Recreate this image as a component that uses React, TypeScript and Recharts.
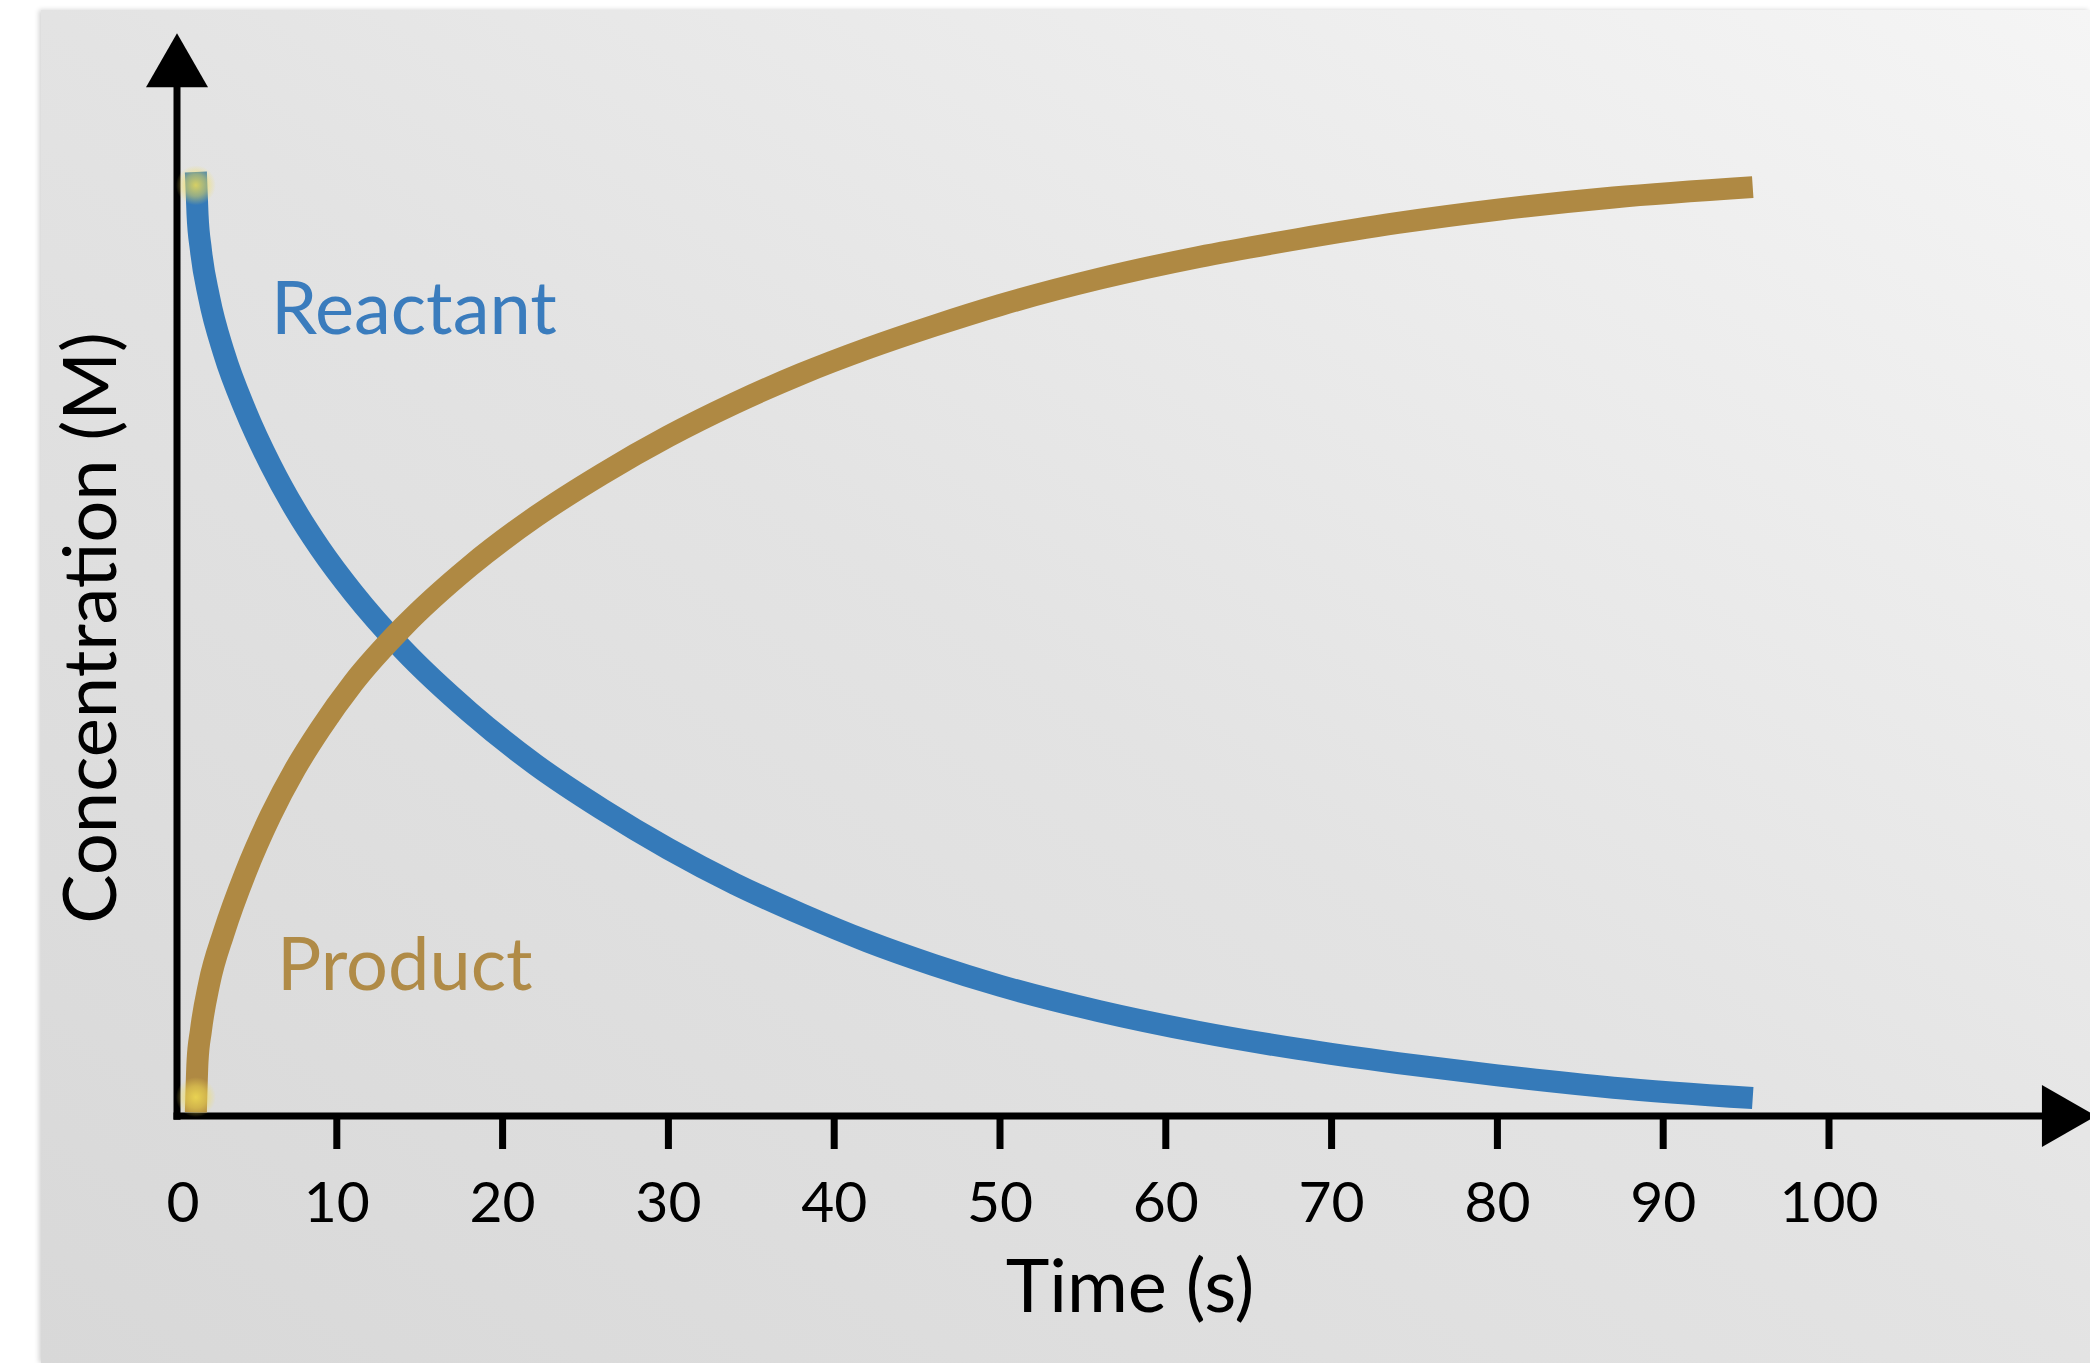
import { LineChart, Line, XAxis, YAxis, ReferenceLine, ReferenceDot, Label } from 'recharts';

// time (s) against relative concentration
const timePoints = [1.5, 1.6, 1.8, 2.3, 3.2, 4.5, 6, 7.5, 9, 11, 14, 18, 22, 26, 30, 34, 38, 42, 46, 50, 56, 62, 68, 74, 80, 87, 95.4];
const reactantConc = [1.0, 0.955, 0.918, 0.867, 0.808, 0.747, 0.69, 0.642, 0.601, 0.554, 0.494, 0.428, 0.372, 0.325, 0.283, 0.246, 0.214, 0.185, 0.16, 0.138, 0.111, 0.089, 0.071, 0.056, 0.043, 0.03, 0.019];
const productConc = [0.004, 0.058, 0.09, 0.14, 0.195, 0.258, 0.318, 0.368, 0.41, 0.459, 0.518, 0.582, 0.635, 0.68, 0.72, 0.755, 0.786, 0.813, 0.837, 0.859, 0.887, 0.91, 0.929, 0.946, 0.96, 0.973, 0.984];

const timeTicks = [0, 10, 20, 30, 40, 50, 60, 70, 80, 90, 100];

const chartData = timePoints.map((t, i) => ({ t, reactant: reactantConc[i], product: productConc[i] }));

const FONT = 'Lato, "Open Sans", sans-serif';
const BLUE = '#357ab9';
const GOLD = '#af8943';

function TimeTick({ x, y, payload }: any) {
  const v = payload.value;
  return (
    <g>
      {v !== 0 && <line x1={x} y1={y} x2={x} y2={y + 33} stroke="#000" strokeWidth={7} />}
      <text x={v === 0 ? x + 12 : x} y={y + 106} textAnchor="middle" fontFamily={FONT} fontSize={57} fill="#000">
        {v}
      </text>
    </g>
  );
}

function ArrowAxis(props: any) {
  const { x1, y1, x2, y2 } = props;
  const dx = x2 - x1;
  const dy = y2 - y1;
  const len = Math.hypot(dx, dy) || 1;
  const ux = dx / len;
  const uy = dy / len;
  const head = 54;
  const half = 31;
  const bx = x2 - ux * head;
  const by = y2 - uy * head;
  const px = -uy;
  const py = ux;
  return (
    <g>
      <line x1={x1} y1={y1} x2={bx + ux * 4} y2={by + uy * 4} stroke="#000" strokeWidth={7} />
      <polygon
        points={`${x2},${y2} ${bx + px * half},${by + py * half} ${bx - px * half},${by - py * half}`}
        fill="#000"
      />
    </g>
  );
}

function Glow(id: string) {
  return ({ cx, cy }: any) => (
    <g>
      <defs>
        <radialGradient id={id}>
          <stop offset="0%" stopColor="#f3df55" stopOpacity={0.85} />
          <stop offset="55%" stopColor="#f3df55" stopOpacity={0.5} />
          <stop offset="100%" stopColor="#f3df55" stopOpacity={0} />
        </radialGradient>
      </defs>
      <circle cx={cx} cy={cy} r={20} fill={`url(#${id})`} />
    </g>
  );
}

function SeriesName(text: string, color: string) {
  return ({ cx, cy }: any) => (
    <text x={cx} y={cy} fontFamily={FONT} fontSize={74} fill={color}>
      {text}
    </text>
  );
}

export default function App() {
  return (
    <div style={{ position: 'absolute', left: 0, top: 0, width: 2090, height: 1363, background: '#fff', overflow: 'hidden' }}>
      <div
        style={{
          position: 'absolute',
          left: 41,
          top: 10,
          width: 2049,
          height: 1353,
          background: 'linear-gradient(to top right, #d8d8d8 0%, #e3e3e3 50%, #f5f5f5 100%)',
          boxShadow: '-2px 0 5px rgba(0,0,0,0.18)',
        }}
      />
      <div style={{ position: 'absolute', left: 0, top: 0 }}>
        <LineChart width={2090} height={1363} data={chartData} margin={{ top: 172, right: 261, bottom: 0, left: 0 }}>
          <XAxis
            dataKey="t"
            type="number"
            domain={[0, 100]}
            ticks={timeTicks}
            axisLine={false}
            tickLine={false}
            tickSize={0}
            tickMargin={0}
            height={247}
            interval={0}
            tick={<TimeTick />}
          >
            <Label
              content={({ viewBox }: any) => (
                <text
                  x={viewBox.x + viewBox.width / 2 + 130}
                  y={viewBox.y + 196}
                  textAnchor="middle"
                  fontFamily={FONT}
                  fontSize={74}
                  fill="#000"
                >
                  Time (s)
                </text>
              )}
            />
          </XAxis>
          <YAxis type="number" domain={[0, 1]} width={171} axisLine={false} tickLine={false} tick={false}>
            <Label
              content={({ viewBox }: any) => {
                const x = viewBox.x + 116;
                const y = viewBox.y + viewBox.height / 2 - 16;
                return (
                  <text
                    x={x}
                    y={y}
                    transform={`rotate(-90, ${x}, ${y})`}
                    textAnchor="middle"
                    fontFamily={FONT}
                    fontSize={74}
                    fill="#000"
                  >
                    Concentration (M)
                  </text>
                );
              }}
            />
          </YAxis>
          <ReferenceLine
            segment={[{ x: 0.362, y: -0.004 }, { x: 0.362, y: 1.147 }]}
            ifOverflow="visible"
            shape={<ArrowAxis />}
          />
          <ReferenceLine
            segment={[{ x: 0.15, y: 0 }, { x: 116.1, y: 0 }]}
            ifOverflow="visible"
            shape={<ArrowAxis />}
          />
          <Line
            dataKey="reactant"
            type="monotoneX"
            stroke={BLUE}
            strokeWidth={22}
            dot={false}
            activeDot={false}
            isAnimationActive={false}
          />
          <Line
            dataKey="product"
            type="monotoneX"
            stroke={GOLD}
            strokeWidth={22}
            dot={false}
            activeDot={false}
            isAnimationActive={false}
          />
          <ReferenceDot x={1.5} y={0.986} ifOverflow="visible" shape={Glow('glowTop')} />
          <ReferenceDot x={1.5} y={0.02} ifOverflow="visible" shape={Glow('glowBottom')} />
          <ReferenceDot x={6.03} y={0.828} ifOverflow="visible" shape={SeriesName('Reactant', '#3a7cbd')} />
          <ReferenceDot x={6.39} y={0.1335} ifOverflow="visible" shape={SeriesName('Product', '#b08b47')} />
        </LineChart>
      </div>
    </div>
  );
}
